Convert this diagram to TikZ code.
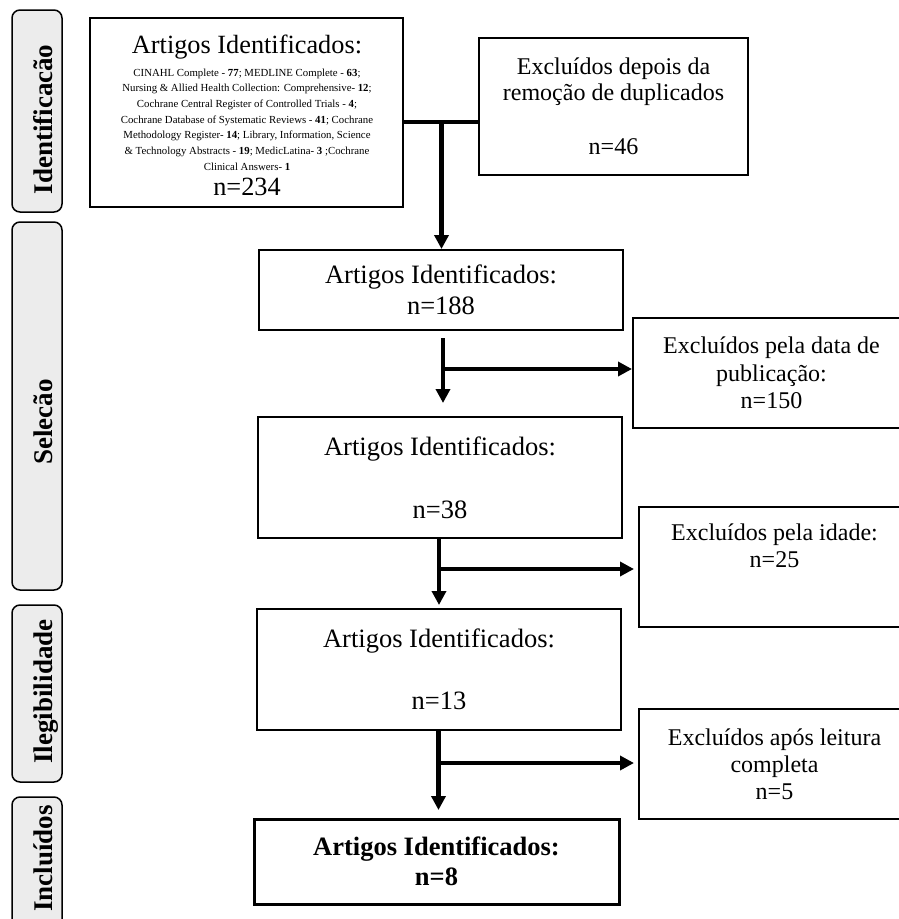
\documentclass[tikz,border=0pt]{standalone}
\usepackage{fontspec}
\setmainfont{Liberation Serif}
\usetikzlibrary{arrows.meta}
\begin{document}
\begin{tikzpicture}[x=1pt,y=-1pt,
  band/.style={draw, line width=1.5pt, fill=gray!15, rounded corners=8pt, minimum width=50pt, inner sep=0pt},
  bandlabel/.style={rotate=90, anchor=base, font=\fontsize{27}{30}\selectfont\bfseries, inner sep=0pt},
  box/.style={draw, line width=2pt, inner sep=0pt, align=center},
  txt/.style={inner sep=0pt, align=center},
  conn/.style={line width=4.5pt},
  arrowed/.style={-{Triangle[length=14pt,width=14pt]}},
]
\useasboundingbox (0,0) rectangle (899,919);
\clip (0,0) rectangle (899,919);

% side bands
\node[band, minimum height=202pt] (bid) at (37,111) {};
\node[bandlabel] (lid) at (52,119.5) {Identificacão};
\node[band, minimum height=368pt] (bsel) at (37,406) {};
\node[bandlabel] (lsel) at (52,422) {Selecão};
\node[band, minimum height=177pt] (bile) at (37,693.5) {};
\node[bandlabel] (lile) at (52,691.5) {Ilegibilidade};
\node[band, minimum height=138pt] (binc) at (37,866) {};
\node[bandlabel] (linc) at (52,858.5) {Incluídos};

% box 1
\node[box, minimum width=313pt, minimum height=189pt] (b1) at (246.5,112.5) {};
\node[txt, anchor=base, font=\fontsize{26.3}{30}\selectfont] (t1a) at (247,53) {Artigos Identificados:};
\node[txt, anchor=north, font=\fontsize{10.8}{15.67}\selectfont] (t1b) at (247,68.5)
 {CINAHL Complete - \textbf{77}; MEDLINE Complete - \textbf{63};\\
  Nursing \& Allied Health Collection: Comprehensive- \textbf{12};\\
  Cochrane Central Register of Controlled Trials - \textbf{4};\\
  Cochrane Database of Systematic Reviews - \textbf{41}; Cochrane\\
  Methodology Register- \textbf{14}; Library, Information, Science\\
  \& Technology Abstracts - \textbf{19}; MedicLatina- \textbf{3} ;Cochrane\\
  Clinical Answers- \textbf{1}};
\node[txt, anchor=base, font=\fontsize{26.3}{30}\selectfont] (t1c) at (247,195) {n=234};

% box 2
\node[box, minimum width=269pt, minimum height=137pt, font=\fontsize{24}{25.5}\selectfont] (b2) at (613.5,106.5)
 {Excluídos depois da\\remoção de duplicados\\[29pt]n=46};

% box 3
\node[box, minimum width=364pt, minimum height=80pt, font=\fontsize{26.5}{31}\selectfont] (b3) at (441,290)
 {Artigos Identificados:\\n=188};

% box 4
\node[box, minimum width=277pt, minimum height=110pt, font=\fontsize{24}{27.5}\selectfont] (b4) at (771.5,373)
 {Excluídos pela data de\\publicação:\\n=150};

% box 5
\node[box, minimum width=364pt, minimum height=121pt, font=\fontsize{26.5}{31}\selectfont] (b5) at (440,477.5)
 {Artigos Identificados:\\[32pt]n=38};

% box 6
\node[box, minimum width=271pt, minimum height=120pt] (b6) at (774.5,567) {};
\node[txt, anchor=north, font=\fontsize{24}{27}\selectfont] (t6) at (774.5,523.6)
 {Excluídos pela idade:\\n=25};

% box 7
\node[box, minimum width=364pt, minimum height=121pt, font=\fontsize{26.5}{31}\selectfont] (b7) at (439,669.5)
 {Artigos Identificados:\\[31pt]n=13};

% box 8
\node[box, minimum width=271pt, minimum height=110pt, font=\fontsize{24}{27}\selectfont] (b8) at (774.5,764)
 {Excluídos após leitura\\completa\\n=5};

% box 9
\node[box, line width=3pt, minimum width=365pt, minimum height=85pt, font=\fontsize{26.5}{30}\selectfont\bfseries] (b9) at (436.5,861.5)
 {Artigos Identificados:\\n=8};

% connectors
\coordinate (j1) at (441.5,122);
\draw[conn] (b1.east |- j1) -- (b2.west |- j1);
\draw[conn, arrowed] (j1) -- (j1 |- b3.north);

\coordinate (c2a) at (443,338);
\coordinate (c2b) at (443,403);
\coordinate (c2m) at (443,369);
\draw[conn, arrowed] (c2a) -- (c2b);
\draw[conn, arrowed] (c2m) -- (c2m -| b4.west);

\coordinate (c3b) at (439,605);
\coordinate (c3m) at (439,569);
\coordinate (c3e) at (634,569);
\draw[conn, arrowed] (b5.south -| c3b) -- (c3b);
\draw[conn, arrowed] (c3m) -- (c3e);

\coordinate (c4b) at (438.5,810);
\coordinate (c4m) at (438.5,763);
\coordinate (c4e) at (634,763);
\draw[conn, arrowed] (b7.south -| c4b) -- (c4b);
\draw[conn, arrowed] (c4m) -- (c4e);
\end{tikzpicture}
\end{document}
